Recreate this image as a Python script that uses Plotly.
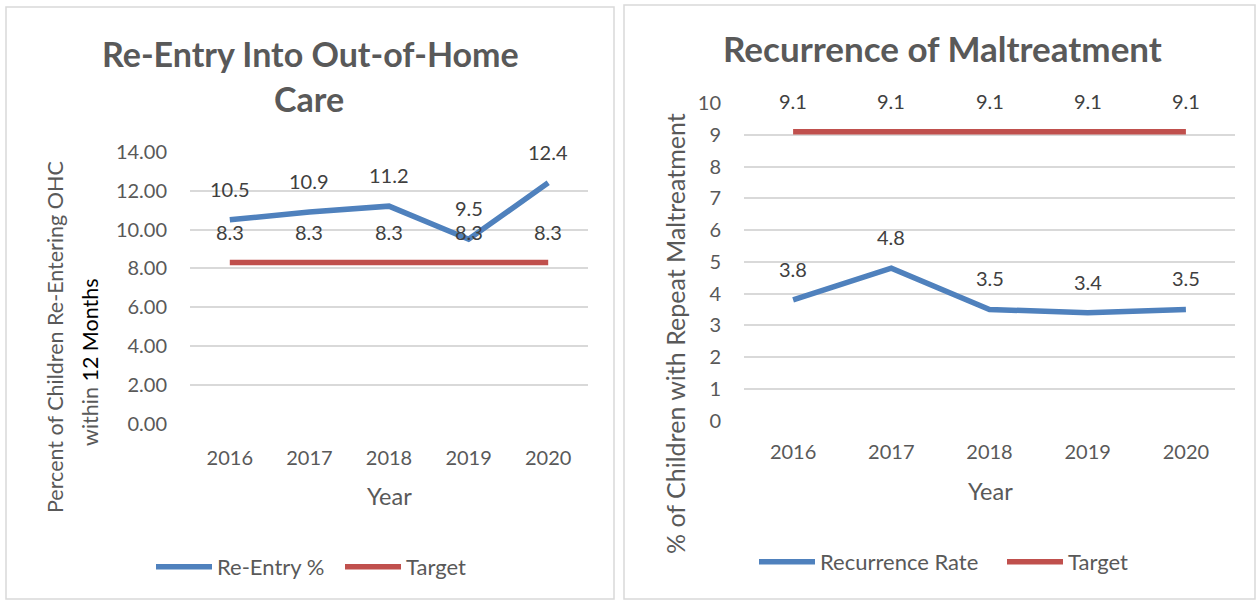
import plotly.graph_objects as go

years = ["2016", "2017", "2018", "2019", "2020"]
reentry = [10.5, 10.9, 11.2, 9.5, 12.4]
reentry_target = [8.3, 8.3, 8.3, 8.3, 8.3]
recurrence = [3.8, 4.8, 3.5, 3.4, 3.5]
recurrence_target = [9.1, 9.1, 9.1, 9.1, 9.1]

W, H = 1256, 600
FONT = "Lato"
GRAY = "#595959"
LABEL = "#404040"
BLUE = "#4f81bd"
RED = "#c0504d"
GRID = "#d9d9d9"
ITEMW = 56


def px(x):
    return x / W


def py(y):
    return 1 - y / H


fig = go.Figure()

fig.add_trace(go.Scatter(x=years, y=reentry, mode="lines", name="Re-Entry %",
                         line=dict(color=BLUE, width=5.5), xaxis="x", yaxis="y", legend="legend"))
fig.add_trace(go.Scatter(x=years, y=reentry_target, mode="lines", name="Target",
                         line=dict(color=RED, width=5.5), xaxis="x", yaxis="y", legend="legend2"))
fig.add_trace(go.Scatter(x=years, y=recurrence, mode="lines", name="Recurrence Rate",
                         line=dict(color=BLUE, width=5.5), xaxis="x2", yaxis="y2", legend="legend3"))
fig.add_trace(go.Scatter(x=years, y=recurrence_target, mode="lines", name="Target",
                         line=dict(color=RED, width=5.5), xaxis="x2", yaxis="y2", legend="legend4"))

annotations = []
for xr, yr, series in [("x", "y", reentry), ("x", "y", reentry_target),
                       ("x2", "y2", recurrence), ("x2", "y2", recurrence_target)]:
    for i, v in enumerate(series):
        annotations.append(dict(x=i, y=v, xref=xr, yref=yr, text=f"{v}", showarrow=False,
                                xanchor="center", yanchor="middle",
                                yshift=31, font=dict(family=FONT, size=20, color=LABEL)))


def pa(x, y, text, size, angle=0):
    return dict(x=px(x), y=py(y), xref="paper", yref="paper", text=text, showarrow=False,
                xanchor="center", yanchor="middle", textangle=angle,
                font=dict(family=FONT, size=size, color=GRAY))


annotations += [
    pa(310, 53, "<b>Re-Entry Into Out-of-Home</b>", 34),
    pa(309, 98, "<b>Care</b>", 34),
    pa(942, 48, "<b>Recurrence of Maltreatment</b>", 35),
    pa(389, 496, "Year", 23.5),
    pa(990, 491, "Year", 23.5),
    pa(55, 337, "Percent of Children Re-Entering OHC", 21.5, -90),
    pa(90, 362, "within <span style='color:#000000'>12 Months</span>", 21.5, -90),
    pa(675, 334, "% of Children with Repeat Maltreatment", 25, -90),
]

shapes = [
    dict(type="rect", xref="paper", yref="paper", x0=px(6), x1=px(614), y0=py(599), y1=py(7),
         line=dict(color=GRID, width=1.5), layer="below"),
    dict(type="rect", xref="paper", yref="paper", x0=px(624), x1=px(1255), y0=py(599), y1=py(5),
         line=dict(color=GRID, width=1.5), layer="below"),
]

tickfont = dict(family=FONT, size=20, color=GRAY)
xcommon = dict(type="category", range=[-0.5, 4.5], showgrid=False, showline=False, zeroline=False,
               tickfont=tickfont, ticks="", fixedrange=True, automargin=False)
ycommon = dict(showgrid=True, gridcolor=GRID, gridwidth=1.5, showline=False, zeroline=False,
               tickfont=tickfont, ticks="", ticklabelstandoff=22, fixedrange=True, automargin=False)


def legend_at(text_x, text_y):
    return dict(x=px(text_x - ITEMW - 10), y=py(text_y), xanchor="left", yanchor="middle",
                orientation="h", bgcolor="rgba(0,0,0,0)", borderwidth=0, itemwidth=ITEMW,
                font=dict(family=FONT, size=22, color=GRAY))


fig.update_layout(
    width=W, height=H, margin=dict(l=0, r=0, t=0, b=0, autoexpand=False),
    paper_bgcolor="white", plot_bgcolor="white",
    showlegend=True,
    xaxis=dict(domain=[px(190), px(588)], anchor="y", ticklabelstandoff=20, **xcommon),
    yaxis=dict(domain=[py(424), py(151.7)], anchor="x", range=[0, 14], dtick=2, tickformat=".2f", **ycommon),
    xaxis2=dict(domain=[px(744), px(1235)], anchor="y2", ticklabelstandoff=17, **xcommon),
    yaxis2=dict(domain=[py(420.5), py(103.3)], anchor="x2", range=[0, 10], dtick=1, **ycommon),
    legend=legend_at(217, 567),
    legend2=legend_at(406, 567),
    legend3=legend_at(820, 562),
    legend4=legend_at(1068, 562),
    annotations=annotations,
    shapes=shapes,
)

fig.write_html("out.html", config={"displayModeBar": False},
               post_script="document.body.style.margin='0';")
